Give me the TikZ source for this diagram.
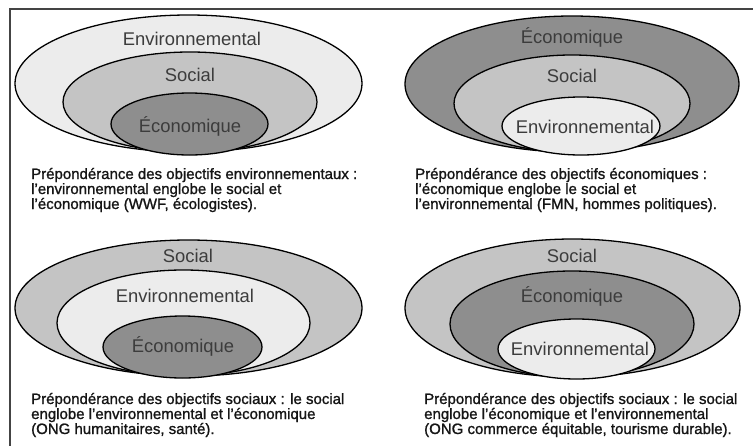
\documentclass[tikz,border=0pt]{standalone}
\usepackage{fontspec}
\setmainfont{Liberation Sans}
\newfontfamily\capfont[FakeBold=1.2]{Liberation Sans}
\definecolor{lightg}{HTML}{ECECEC}
\definecolor{midg}{HTML}{C4C4C4}
\definecolor{darkg}{HTML}{8E8E8E}
\definecolor{labg}{HTML}{3C3C3C}
\definecolor{capg}{HTML}{151515}
\definecolor{frameg}{HTML}{444444}
\begin{document}
\begin{tikzpicture}[x=1pt,y=-1pt,
  ring/.style={draw=black,line width=1.3pt},
  lab/.style={font=\fontsize{18.4}{20}\selectfont,text=labg,anchor=base,inner sep=0pt},
  captxt/.style={font=\capfont\fontsize{15}{15}\selectfont,text=capg,anchor=base west,inner sep=0pt}]
\useasboundingbox (0,0) rectangle (753,445);
\fill[white] (0,0) rectangle (753,445);
\draw[frameg,line width=2pt] (10,460) -- (10,9) -- (770,9);

% ---- top left
\fill[lightg,ring] (188.5,83.5) ellipse [x radius=173.5,y radius=68.5];
\fill[midg,ring] (190,102) ellipse [x radius=127,y radius=50];
\fill[darkg,ring] (189.5,124) ellipse [x radius=78.5,y radius=31];
\node[lab] (tl1) at (192,45) {Environnemental};
\node[lab] (tl2) at (190,81) {Social};
\node[lab] (tl3) at (190,132) {Économique};
\node[captxt] (tlc1) at (31,179) {Prépondérance des objectifs environnementaux :};
\node[captxt] (tlc2) at (31,194) {l’environnemental englobe le social et};
\node[captxt] (tlc3) at (31,209) {l’économique (WWF, écologistes).};

% ---- top right
\fill[darkg,ring] (572,84) ellipse [x radius=167,y radius=68];
\fill[midg,ring] (572,103.5) ellipse [x radius=118,y radius=48.5];
\fill[lightg,ring] (581,126) ellipse [x radius=79,y radius=29];
\node[lab] (tr1) at (572,43) {Économique};
\node[lab] (tr2) at (572,82) {Social};
\node[lab] (tr3) at (585,133) {Environnemental};
\node[captxt] (trc1) at (415,179) {Prépondérance des objectifs économiques :};
\node[captxt] (trc2) at (415,194) {l’économique englobe le social et};
\node[captxt] (trc3) at (415,209) {l’environnemental (FMN, hommes politiques).};

% ---- bottom left
\fill[midg,ring] (188.5,308) ellipse [x radius=173.5,y radius=68];
\fill[lightg,ring] (183.5,323) ellipse [x radius=126.5,y radius=53];
\fill[darkg,ring] (182.5,347) ellipse [x radius=79.5,y radius=31];
\node[lab] (bl1) at (188,262) {Social};
\node[lab] (bl2) at (185,302) {Environnemental};
\node[lab] (bl3) at (183,352) {Économique};
\node[captxt] (blc1) at (31,404) {Prépondérance des objectifs sociaux : le social};
\node[captxt] (blc2) at (31,419) {englobe l’environnemental et l’économique};
\node[captxt] (blc3) at (31,434) {(ONG humanitaires, santé).};

% ---- bottom right
\fill[midg,ring] (572.5,308) ellipse [x radius=167.5,y radius=69];
\fill[darkg,ring] (572,324) ellipse [x radius=122,y radius=53];
\fill[lightg,ring] (576.5,349) ellipse [x radius=78.5,y radius=30];
\node[lab] (br1) at (572,262) {Social};
\node[lab] (br2) at (572,302) {Économique};
\node[lab] (br3) at (580,355) {Environnemental};
\node[captxt] (brc1) at (424,404) {Prépondérance des objectifs sociaux : le social};
\node[captxt] (brc2) at (424,419) {englobe l’économique et l’environnemental};
\node[captxt] (brc3) at (424,434) {(ONG commerce équitable, tourisme durable).};
\end{tikzpicture}
\end{document}
